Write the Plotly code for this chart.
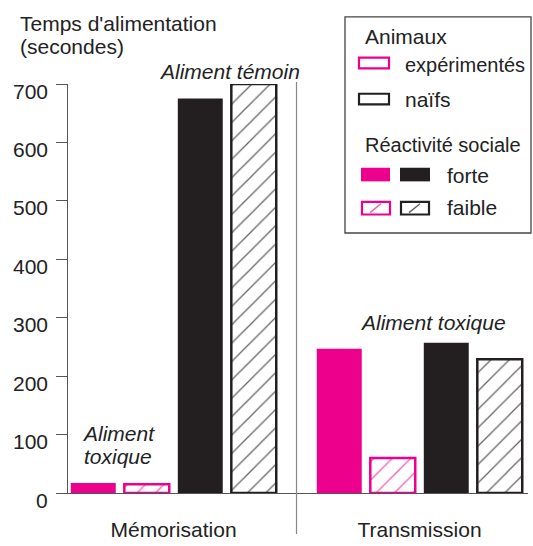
import plotly.graph_objects as go

# ---- data ----
categories = ["Mémorisation", "Transmission"]
exp_forte = [17, 247]     # expérimentés, réactivité forte
exp_faible = [15, 60]     # expérimentés, réactivité faible
naif_forte = [675, 257]   # naïfs, réactivité forte
naif_faible = [700, 229]  # naïfs, réactivité faible
y_ticks = [0, 100, 200, 300, 400, 500, 600, 700]

PINK = "#EC008C"
BLACK = "#231F20"
TXT = "#222222"
AX = "#555555"
FONT = "Liberation Sans, Arial, sans-serif"
FS = 21

W, H = 533, 546
# plot area in window pixels: x 68..528, y 84..504
ML, MR, MT, MB = 68, 533 - 528, 84, 546 - 504
PW, PH = W - ML - MR, H - MT - MB


def px(x):
    return (x - ML) / PW


def py(y):
    return (504 - y) / PH


fig = go.Figure()


def add_bar(vals, color, hatched, name, hatch_color=None):
    if hatched:
        marker = dict(color="white", line=dict(color=color, width=2.5),
                      pattern=dict(shape="/", fgcolor=hatch_color or color, bgcolor="white",
                                   size=13, solidity=0.1, fillmode="replace"))
    else:
        marker = dict(color=color, line=dict(color=color, width=0))
    fig.add_trace(go.Bar(x=categories, y=vals, name=name, marker=marker,
                         showlegend=False, cliponaxis=False))


add_bar(exp_forte, PINK, False, "expérimentés forte")
add_bar(exp_faible, PINK, True, "expérimentés faible", "#F060B0")
add_bar(naif_forte, BLACK, False, "naïfs forte")
add_bar(naif_faible, BLACK, True, "naïfs faible", "#666666")

shapes = []
# separator between groups
shapes.append(dict(type="line", xref="x", yref="paper", x0=0.5, x1=0.5,
                   y0=py(546), y1=py(82), line=dict(color="#888888", width=1.2)))

# ---- custom legend ----
shapes.append(dict(type="rect", xref="paper", yref="paper",
                   x0=px(345), x1=px(531), y0=py(237), y1=py(15),
                   line=dict(color="#444444", width=1.3), fillcolor="white", layer="below"))
# animaux swatches (outline)
shapes.append(dict(type="rect", xref="paper", yref="paper", x0=px(359), x1=px(389),
                   y0=py(68), y1=py(57), line=dict(color=PINK, width=2.2)))
shapes.append(dict(type="rect", xref="paper", yref="paper", x0=px(359), x1=px(389),
                   y0=py(105), y1=py(94), line=dict(color=BLACK, width=2.2)))
# réactivité sociale swatches
shapes.append(dict(type="rect", xref="paper", yref="paper", x0=px(361), x1=px(390),
                   y0=py(184), y1=py(170), line=dict(width=0), fillcolor=PINK))
shapes.append(dict(type="rect", xref="paper", yref="paper", x0=px(400), x1=px(430),
                   y0=py(184), y1=py(170), line=dict(width=0), fillcolor=BLACK))
for x0, c, hc in [(361, PINK, "#F060B0"), (400, BLACK, "#666666")]:
    shapes.append(dict(type="rect", xref="paper", yref="paper", x0=px(x0 + 1), x1=px(x0 + 29),
                       y0=py(218), y1=py(205), line=dict(color=c, width=2.2)))
    shapes.append(dict(type="line", xref="paper", yref="paper", x0=px(x0 + 9), x1=px(x0 + 20),
                       y0=py(216), y1=py(207), line=dict(color=hc, width=1.5)))

ann = []


def text(x, y, s, size=FS, anchor="left", italic=False):
    ann.append(dict(xref="paper", yref="paper", x=px(x), y=py(y), text=s, showarrow=False,
                    xanchor=anchor, yanchor="middle",
                    font=dict(family=FONT, size=size, color=TXT,
                              style="italic" if italic else "normal")))


text(18, 22, "Temps d'alimentation")
text(18, 46, "(secondes)")
text(363, 35, "Animaux")
text(403, 64, "expérimentés", size=20)
text(403, 100, "naïfs")
text(363, 147, "Réactivité sociale", size=20)
text(445, 178, "forte")
text(445, 211, "faible")
text(229, 71, "Aliment témoin", anchor="center", italic=True)
text(433, 329, "Aliment toxique", anchor="center", italic=True)
text(118, 443, "Aliment", anchor="center", italic=True)
text(118, 467, "toxique", anchor="center", italic=True)

# y tick labels (drawn slightly below their ticks, as in the reference)
for v in y_ticks:
    ann.append(dict(xref="paper", yref="y", x=px(50), y=v, text=str(v), showarrow=False,
                    xanchor="right", yanchor="middle", yshift=-7,
                    font=dict(family=FONT, size=FS, color=TXT)))

fig.update_layout(
    width=W, height=H,
    margin=dict(l=ML, r=MR, t=MT, b=MB, pad=0),
    paper_bgcolor="white", plot_bgcolor="white",
    barmode="group", bargap=0.13, bargroupgap=0.16,
    shapes=shapes, annotations=ann,
    font=dict(family=FONT, size=FS, color=TXT),
)
fig.update_xaxes(range=[-0.429, 1.441], showgrid=False, zeroline=False,
                 showline=True, linecolor=AX, linewidth=1.2,
                 ticks="", tickfont=dict(size=FS, color=TXT), ticklabelstandoff=18)
fig.update_yaxes(range=[0, 700], tickvals=y_ticks, showgrid=False, zeroline=False,
                 showline=True, linecolor=AX, linewidth=1.2,
                 ticks="outside", ticklen=11, tickcolor=AX, tickwidth=1.2,
                 showticklabels=False)

fig.write_html(
    "out.html",
    config={"displayModeBar": False},
    post_script="document.body.style.margin='0';"
                "document.body.style.overflow='hidden';"
                "document.documentElement.style.overflow='hidden';",
)
